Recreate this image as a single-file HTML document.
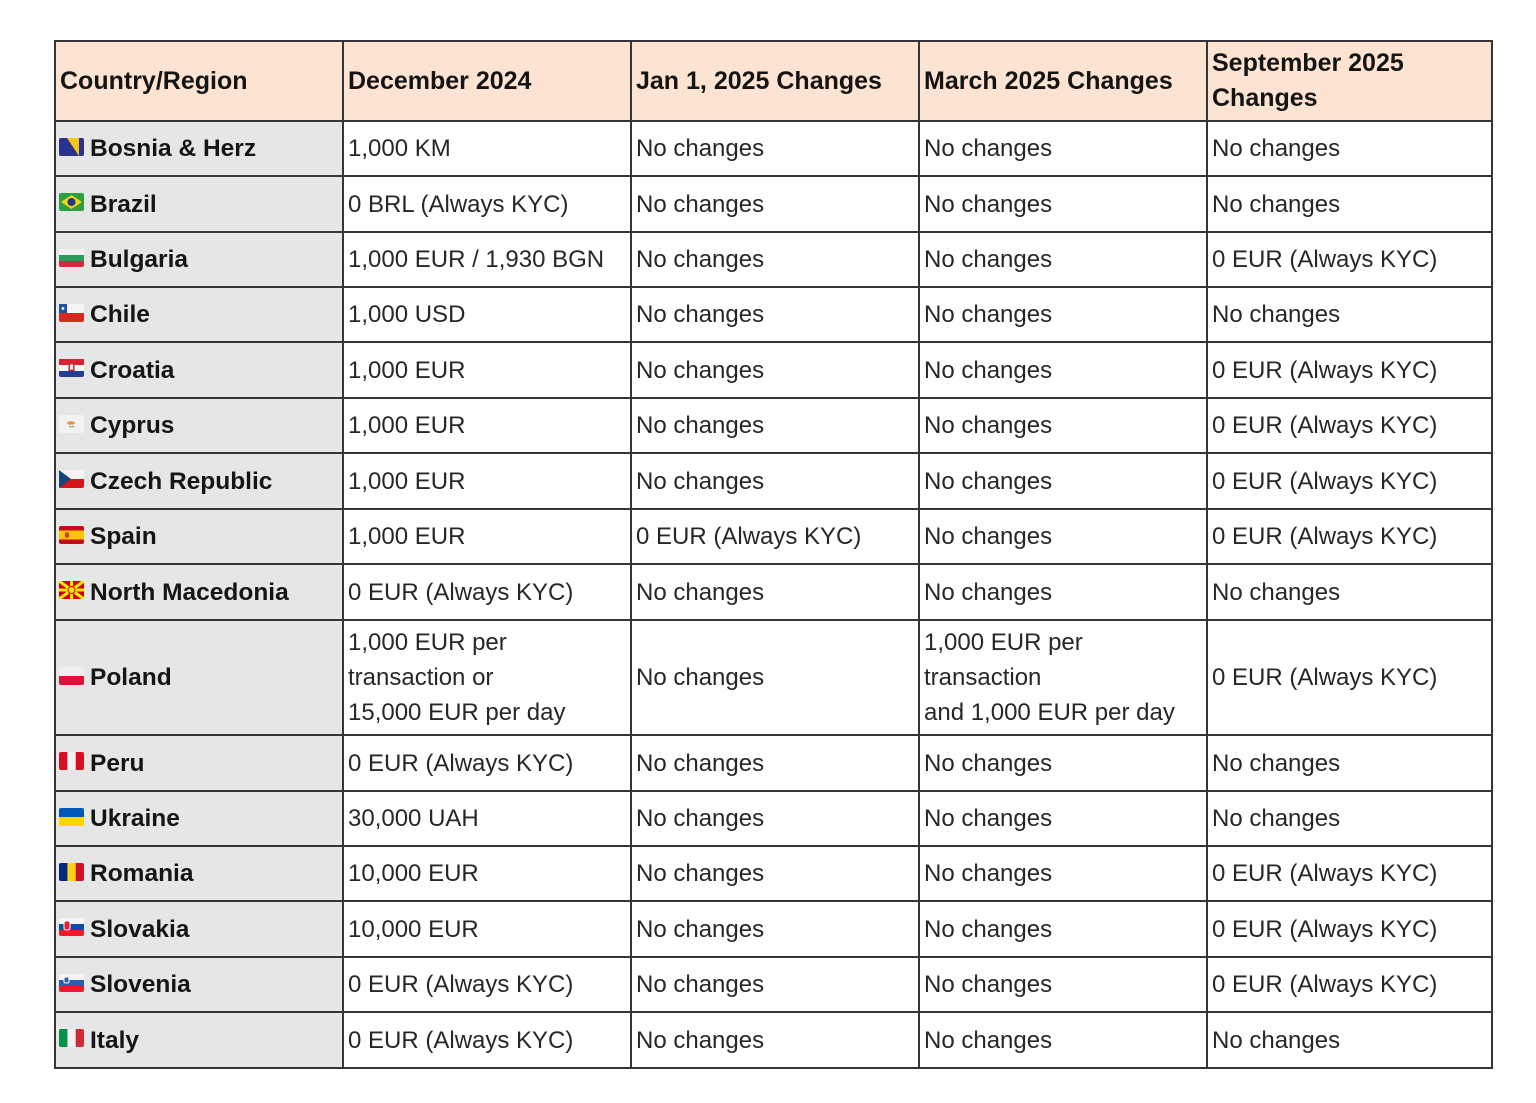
<!DOCTYPE html>
<html><head><meta charset="utf-8">
<style>
html,body{margin:0;padding:0;background:#fff;}
body{width:1536px;height:1103px;position:relative;overflow:hidden;font-family:"Liberation Sans",Arial,sans-serif;}
.c{position:absolute;box-sizing:border-box;border:2px solid #363636;display:flex;align-items:center;padding-left:4px;font-size:24px;color:#272727;line-height:35px;white-space:nowrap;background:#fff;}
.h{background:#fde3d1;font-weight:bold;font-size:25px;color:#141414;}
.f{background:#e7e6e7;font-weight:bold;font-size:24.5px;color:#151515;padding-left:3px;}
.f svg{margin-right:6px;flex:none;position:relative;top:-2px;}
.c0{left:54px;width:290px}.c1{left:342px;width:290px}.c2{left:630px;width:290px}.c3{left:918px;width:290px}.c4{left:1206px;width:287px}
.r0{top:40px;height:82px}.r1{top:120px;height:57px}.r2{top:175px;height:58px}.r3{top:231px;height:57px}.r4{top:286px;height:57px}
.r5{top:341px;height:58px}.r6{top:397px;height:57px}.r7{top:452px;height:58px}.r8{top:508px;height:57px}.r9{top:563px;height:58px}
.r10{top:619px;height:117px}.r11{top:734px;height:58px}.r12{top:790px;height:57px}.r13{top:845px;height:57px}.r14{top:900px;height:58px}
.r15{top:956px;height:57px}.r16{top:1011px;height:58px}
</style></head><body>

<!-- header -->
<div class="c h c0 r0">Country/Region</div>
<div class="c h c1 r0">December 2024</div>
<div class="c h c2 r0">Jan 1, 2025 Changes</div>
<div class="c h c3 r0">March 2025 Changes</div>
<div class="c h c4 r0">September 2025<br>Changes</div>

<!-- Bosnia -->
<div class="c f c0 r1"><svg width="25" height="18" viewBox="0 0 25 18"><rect width="25" height="18" rx="2" fill="#2b3190"/><polygon points="8,0 20,0 20,18" fill="#f5c518"/></svg>Bosnia &amp; Herz</div>
<div class="c c1 r1">1,000 KM</div>
<div class="c c2 r1">No changes</div>
<div class="c c3 r1">No changes</div>
<div class="c c4 r1">No changes</div>

<!-- Brazil -->
<div class="c f c0 r2"><svg width="25" height="18" viewBox="0 0 25 18"><rect width="25" height="18" rx="2" fill="#2aa042"/><polygon points="12.5,2 23,9 12.5,16 2,9" fill="#f7d117"/><circle cx="12.5" cy="9" r="4" fill="#1f3a8a"/></svg>Brazil</div>
<div class="c c1 r2">0 BRL (Always KYC)</div>
<div class="c c2 r2">No changes</div>
<div class="c c3 r2">No changes</div>
<div class="c c4 r2">No changes</div>

<!-- Bulgaria -->
<div class="c f c0 r3"><svg width="25" height="18" viewBox="0 0 25 18"><rect width="25" height="18" rx="2" fill="#d7263d"/><rect width="25" height="12" fill="#2e9b5e"/><rect width="25" height="6" fill="#f2f2f2"/></svg>Bulgaria</div>
<div class="c c1 r3">1,000 EUR / 1,930 BGN</div>
<div class="c c2 r3">No changes</div>
<div class="c c3 r3">No changes</div>
<div class="c c4 r3">0 EUR (Always KYC)</div>

<!-- Chile -->
<div class="c f c0 r4"><svg width="25" height="18" viewBox="0 0 25 18"><rect width="25" height="18" rx="2" fill="#d52b1e"/><rect width="25" height="9" fill="#f4f4f4"/><rect width="8" height="9" fill="#1f4fa0"/><circle cx="4" cy="4.5" r="1.4" fill="#fff"/></svg>Chile</div>
<div class="c c1 r4">1,000 USD</div>
<div class="c c2 r4">No changes</div>
<div class="c c3 r4">No changes</div>
<div class="c c4 r4">No changes</div>

<!-- Croatia -->
<div class="c f c0 r5"><svg width="25" height="18" viewBox="0 0 25 18"><rect width="25" height="18" rx="2" fill="#1f3f95"/><rect width="25" height="12" fill="#f4f4f4"/><rect width="25" height="6" fill="#d8202f"/><rect x="9.5" y="4" width="6" height="8" fill="#d8202f"/><rect x="11" y="5.5" width="3" height="5" fill="#fff"/></svg>Croatia</div>
<div class="c c1 r5">1,000 EUR</div>
<div class="c c2 r5">No changes</div>
<div class="c c3 r5">No changes</div>
<div class="c c4 r5">0 EUR (Always KYC)</div>

<!-- Cyprus -->
<div class="c f c0 r6"><svg width="25" height="18" viewBox="0 0 25 18"><rect width="25" height="18" rx="2" fill="#f2f2f2"/><ellipse cx="12" cy="8" rx="4" ry="1.8" fill="#e8953a"/><path d="M10 11 q2.5 2 5 0" stroke="#7a9a5a" stroke-width="1" fill="none"/></svg>Cyprus</div>
<div class="c c1 r6">1,000 EUR</div>
<div class="c c2 r6">No changes</div>
<div class="c c3 r6">No changes</div>
<div class="c c4 r6">0 EUR (Always KYC)</div>

<!-- Czech -->
<div class="c f c0 r7"><svg width="25" height="18" viewBox="0 0 25 18"><rect width="25" height="18" rx="2" fill="#d7141a"/><rect width="25" height="9" fill="#f4f4f4"/><polygon points="0,0 12,9 0,18" fill="#11457e"/></svg>Czech Republic</div>
<div class="c c1 r7">1,000 EUR</div>
<div class="c c2 r7">No changes</div>
<div class="c c3 r7">No changes</div>
<div class="c c4 r7">0 EUR (Always KYC)</div>

<!-- Spain -->
<div class="c f c0 r8"><svg width="25" height="18" viewBox="0 0 25 18"><rect width="25" height="18" rx="2" fill="#c60b1e"/><rect y="4.5" width="25" height="9" fill="#ffc400"/><rect x="6" y="6.5" width="4" height="5" fill="#c8412f"/></svg>Spain</div>
<div class="c c1 r8">1,000 EUR</div>
<div class="c c2 r8">0 EUR (Always KYC)</div>
<div class="c c3 r8">No changes</div>
<div class="c c4 r8">0 EUR (Always KYC)</div>

<!-- North Macedonia -->
<div class="c f c0 r9"><svg width="25" height="18" viewBox="0 0 25 18"><rect width="25" height="18" rx="2" fill="#d20000"/><g stroke="#ffe600" stroke-width="3"><line x1="0" y1="0" x2="25" y2="18"/><line x1="25" y1="0" x2="0" y2="18"/><line x1="12.5" y1="0" x2="12.5" y2="18"/><line x1="0" y1="9" x2="25" y2="9"/></g><circle cx="12.5" cy="9" r="3.5" fill="#ffe600" stroke="#d20000" stroke-width="1"/></svg>North Macedonia</div>
<div class="c c1 r9">0 EUR (Always KYC)</div>
<div class="c c2 r9">No changes</div>
<div class="c c3 r9">No changes</div>
<div class="c c4 r9">No changes</div>

<!-- Poland -->
<div class="c f c0 r10"><svg width="25" height="18" viewBox="0 0 25 18"><rect width="25" height="18" rx="2" fill="#dc143c"/><rect width="25" height="9" fill="#f0eff0"/></svg>Poland</div>
<div class="c c1 r10">1,000 EUR per<br>transaction or<br>15,000 EUR per day</div>
<div class="c c2 r10">No changes</div>
<div class="c c3 r10">1,000 EUR per<br>transaction<br>and 1,000 EUR per day</div>
<div class="c c4 r10">0 EUR (Always KYC)</div>

<!-- Peru -->
<div class="c f c0 r11"><svg width="25" height="18" viewBox="0 0 25 18"><rect width="25" height="18" rx="2" fill="#d91023"/><rect x="8.3" width="8.4" height="18" fill="#f2f2f2"/></svg>Peru</div>
<div class="c c1 r11">0 EUR (Always KYC)</div>
<div class="c c2 r11">No changes</div>
<div class="c c3 r11">No changes</div>
<div class="c c4 r11">No changes</div>

<!-- Ukraine -->
<div class="c f c0 r12"><svg width="25" height="18" viewBox="0 0 25 18"><rect width="25" height="18" rx="2" fill="#ffd500"/><path d="M2 0h21a2 2 0 0 1 2 2v7H0V2a2 2 0 0 1 2-2z" fill="#0057b7"/></svg>Ukraine</div>
<div class="c c1 r12">30,000 UAH</div>
<div class="c c2 r12">No changes</div>
<div class="c c3 r12">No changes</div>
<div class="c c4 r12">No changes</div>

<!-- Romania -->
<div class="c f c0 r13"><svg width="25" height="18" viewBox="0 0 25 18"><rect width="25" height="18" rx="2" fill="#ce1126"/><rect x="8.3" width="8.4" height="18" fill="#fcd116"/><path d="M2 0h6.3v18H2a2 2 0 0 1-2-2V2a2 2 0 0 1 2-2z" fill="#002b7f"/></svg>Romania</div>
<div class="c c1 r13">10,000 EUR</div>
<div class="c c2 r13">No changes</div>
<div class="c c3 r13">No changes</div>
<div class="c c4 r13">0 EUR (Always KYC)</div>

<!-- Slovakia -->
<div class="c f c0 r14"><svg width="25" height="18" viewBox="0 0 25 18"><rect width="25" height="18" rx="2" fill="#ee1c25"/><rect width="25" height="12" fill="#0b4ea2"/><rect width="25" height="6" fill="#f4f4f4"/><rect x="5" y="3" width="6" height="9" rx="2" fill="#ee1c25" stroke="#fff" stroke-width="1"/></svg>Slovakia</div>
<div class="c c1 r14">10,000 EUR</div>
<div class="c c2 r14">No changes</div>
<div class="c c3 r14">No changes</div>
<div class="c c4 r14">0 EUR (Always KYC)</div>

<!-- Slovenia -->
<div class="c f c0 r15"><svg width="25" height="18" viewBox="0 0 25 18"><rect width="25" height="18" rx="2" fill="#ed1c24"/><rect width="25" height="12" fill="#2a5db0"/><rect width="25" height="6" fill="#f4f4f4"/><rect x="5" y="3" width="5" height="6" rx="1.5" fill="#2a5db0" stroke="#fff" stroke-width="1"/></svg>Slovenia</div>
<div class="c c1 r15">0 EUR (Always KYC)</div>
<div class="c c2 r15">No changes</div>
<div class="c c3 r15">No changes</div>
<div class="c c4 r15">0 EUR (Always KYC)</div>

<!-- Italy -->
<div class="c f c0 r16"><svg width="25" height="18" viewBox="0 0 25 18"><rect width="25" height="18" rx="2" fill="#ce2b37"/><rect x="8.3" width="8.4" height="18" fill="#f2f2f2"/><path d="M2 0h6.3v18H2a2 2 0 0 1-2-2V2a2 2 0 0 1 2-2z" fill="#009246"/></svg>Italy</div>
<div class="c c1 r16">0 EUR (Always KYC)</div>
<div class="c c2 r16">No changes</div>
<div class="c c3 r16">No changes</div>
<div class="c c4 r16">No changes</div>

</body></html>
